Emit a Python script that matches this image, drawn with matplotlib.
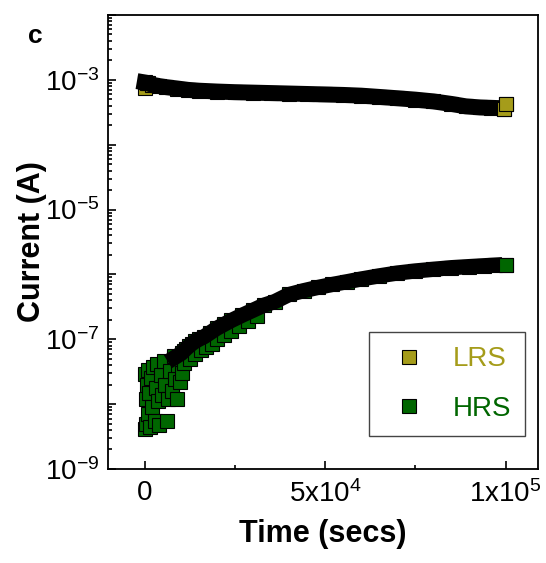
import numpy as np
import matplotlib
matplotlib.use("Agg")
import matplotlib.pyplot as plt
from matplotlib.ticker import FixedLocator, LogLocator, FuncFormatter, NullFormatter

plt.rcParams['font.family'] = ['Liberation Sans', 'DejaVu Sans']
plt.rcParams['mathtext.fontset'] = 'custom'
plt.rcParams['mathtext.rm'] = 'Liberation Sans'
plt.rcParams['mathtext.it'] = 'Liberation Sans'
plt.rcParams['mathtext.bf'] = 'Liberation Sans:bold'

# retention data (time in s, current in A)
t_lrs = np.array([0, 0, 500, 1000, 2000, 4000, 6000, 9000, 12000, 15000, 20000, 25000,
                  30000, 35000, 40000, 45000, 50000, 55000, 60000, 65000, 70000, 75000,
                  80000, 85000, 89000, 93000, 96000, 99500, 100000])
i_lrs = np.array([7.4e-4, 9.1e-4, 9.0e-4, 8.8e-4, 8.4e-4, 8.0e-4, 7.7e-4, 7.35e-4, 7.0e-4,
                  6.8e-4, 6.6e-4, 6.45e-4, 6.35e-4, 6.25e-4, 6.15e-4, 6.05e-4, 5.95e-4,
                  5.85e-4, 5.7e-4, 5.45e-4, 5.2e-4, 4.95e-4, 4.65e-4, 4.25e-4, 3.9e-4,
                  3.75e-4, 3.7e-4, 3.5e-4, 4.2e-4])

# HRS: noisy start, scattered points under the rising part, then the main trace
t_hrs_noisy = np.array([0, 150, 300, 450, 600, 800, 1000, 1200, 1500, 1800, 2100, 2400,
                        2700, 3000, 3300, 3600, 4000, 4400, 4800, 5200, 5600, 6100, 6500,
                        7000, 7500, 8000, 8500, 8900, 9300, 9700, 10200, 11000, 12500,
                        14000, 15500, 17000, 18500, 20000, 22000, 24000, 26000, 28500,
                        31000])
i_hrs_noisy = np.array([4.2e-9, 2.9e-8, 1.2e-8, 5.0e-9, 2.0e-8, 3.4e-8, 7.0e-9, 1.5e-8,
                        4.5e-9, 2.5e-8, 9.0e-9, 3.8e-8, 5.5e-9, 1.8e-8, 4.2e-8, 1.1e-8,
                        4.8e-9, 2.8e-8, 1.4e-8, 4.6e-8, 2.0e-8, 5.5e-9, 1.2e-8, 3.2e-8,
                        1.6e-8, 5.6e-8, 2.4e-8, 1.2e-8, 4.0e-8, 2.2e-8, 3.0e-8, 4.3e-8,
                        5.0e-8, 6.0e-8, 6.8e-8, 7.5e-8, 8.6e-8, 1.0e-7, 1.15e-7, 1.35e-7,
                        1.6e-7, 1.9e-7, 2.3e-7])
t_hrs = np.array([6500, 8200, 10200, 10800, 11500, 12200, 13000, 14000, 15000, 16500,
                  18000, 20000, 22000, 24000, 27000, 30000, 33000, 36000, 40000, 44000,
                  48000, 52000, 56000, 60000, 65000, 70000, 75000, 80000, 85000, 90000,
                  94000, 97000, 100000])
i_hrs = np.array([4.4e-8, 5.2e-8, 6.1e-8, 6.6e-8, 7.2e-8, 7.8e-8, 8.5e-8, 9.3e-8, 1.0e-7,
                  1.1e-7, 1.25e-7, 1.48e-7, 1.7e-7, 1.95e-7, 2.35e-7, 2.8e-7, 3.35e-7,
                  3.8e-7, 4.9e-7, 5.6e-7, 6.3e-7, 7.0e-7, 7.7e-7, 8.5e-7, 9.5e-7, 1.05e-6,
                  1.13e-6, 1.2e-6, 1.27e-6, 1.32e-6, 1.36e-6, 1.39e-6, 1.42e-6])

c_lrs = '#a59c1a'
c_hrs = '#006600'

fig = plt.figure(figsize=(5.46, 5.63), dpi=100)
ax = fig.add_axes([0.1978, 0.167, 0.7875, 0.8064])

mk = dict(marker='s', ms=10, mew=0.8, mec='k', ls='none')
h1, = ax.plot(t_lrs, i_lrs, mfc=c_lrs, label='LRS', zorder=2, **mk)
h2, = ax.plot(t_hrs, i_hrs, mfc=c_hrs, label='HRS', zorder=2, **mk)
ax.plot(t_hrs_noisy, i_hrs_noisy, mfc=c_hrs, zorder=2, **mk)

# dense overlapping markers -> solid black band
band_l = ((t_lrs > 0) | (i_lrs > 8e-4)) & (t_lrs < 99000)
band_h = (t_hrs >= 8000) & (t_hrs < 99000)
ax.plot(t_lrs[band_l], i_lrs[band_l], color='k', lw=11.5, solid_capstyle='projecting', zorder=3)
ax.plot(t_hrs[band_h], i_hrs[band_h], color='k', lw=11, solid_capstyle='projecting', zorder=3)
ax.plot(t_lrs[-2:], i_lrs[-2:], mfc=c_lrs, zorder=4, **mk)
ax.plot(t_hrs[-1:], i_hrs[-1:], mfc=c_hrs, zorder=4, **mk)

ax.set_yscale('log')
ax.set_ylim(1e-9, 1e-2)
ax.set_xlim(-1.02e4, 1.09e5)

ax.yaxis.set_major_locator(LogLocator(base=10, numticks=20))
ax.yaxis.set_minor_locator(LogLocator(base=10, subs=np.arange(2, 10), numticks=20))
ax.yaxis.set_minor_formatter(NullFormatter())

def ylab(v, pos):
    e = int(round(np.log10(v)))
    if e % 2 == 1:
        return r'$\mathregular{10^{%d}}$' % e
    return ''
ax.yaxis.set_major_formatter(FuncFormatter(ylab))

ax.xaxis.set_major_locator(FixedLocator([0, 5e4, 1e5]))
ax.xaxis.set_minor_locator(FixedLocator([2.5e4, 7.5e4]))
ax.set_xticklabels(['0', r'5x10$^{4}$', r'1x10$^{5}$'])

ax.tick_params(which='both', direction='in', top=False, right=False, labelsize=20, width=1.2)
ax.tick_params(axis='y', which='major', length=6, pad=6)
ax.tick_params(axis='x', which='major', length=6, pad=8)
ax.tick_params(which='minor', length=3)
for s in ax.spines.values():
    s.set_linewidth(1.3)

ax.set_xlabel('Time (secs)', fontsize=22, fontweight='bold', labelpad=8)
ax.set_ylabel('Current (A)', fontsize=22, fontweight='bold', labelpad=-1)

leg = ax.legend(handles=[h1, h2], loc='lower left', bbox_to_anchor=(0.607, 0.073),
                fontsize=20, frameon=True, fancybox=False, framealpha=1,
                edgecolor='#444444', borderpad=0.5, labelspacing=0.85,
                handlelength=1.9, handletextpad=0.6, borderaxespad=0)
leg.get_frame().set_linewidth(1.0)
leg.get_texts()[0].set_color(c_lrs)
leg.get_texts()[1].set_color(c_hrs)

fig.text(35 / 546, 1 - 36 / 563, 'c', fontsize=19, fontweight='bold', ha='center', va='center')

fig.savefig('out.png', dpi=100)
